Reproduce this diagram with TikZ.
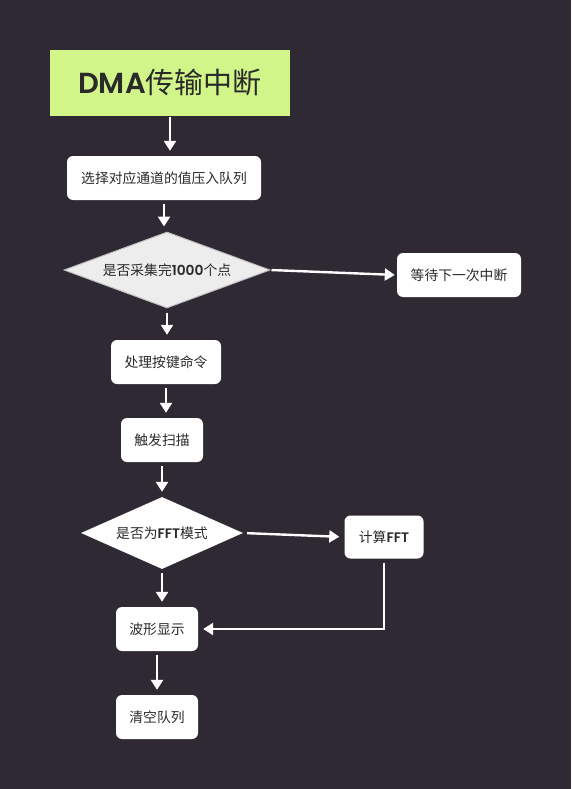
\documentclass[tikz,border=0pt]{standalone}
\usepackage{fontspec}
\setmainfont{Noto Sans CJK SC}
\newfontfamily\latinbold{Poppins}[UprightFont=* SemiBold]
\usetikzlibrary{shapes.geometric,arrows.meta}
\definecolor{bgdark}{HTML}{2E2933}
\definecolor{titlegreen}{HTML}{D2F58A}
\definecolor{txtdark}{HTML}{2A2A2A}
\begin{document}
\begin{tikzpicture}[
  x=1pt, y=-1pt,
  stepbox/.style={rectangle, rounded corners=6pt, fill=white, text=txtdark, font=\fontsize{13.8}{16}\selectfont, inner sep=0pt},
  decide/.style={diamond, aspect=2.6, inner sep=0pt, text=txtdark, font=\fontsize{13.8}{16}\selectfont},
  arr/.style={draw=white, line width=2.4pt, -{Triangle[length=10pt,width=12pt]}, shorten <=4pt, shorten >=5pt}
]
  \fill[bgdark] (0,0) rectangle (571,789);
  \useasboundingbox (0,0) rectangle (571,789);

  % titel
  \node[rectangle, fill=titlegreen, text=txtdark, minimum width=240pt, minimum height=66pt, inner sep=0pt,
        font=\fontsize{29}{32}\selectfont] (dma) at (170,83) {{\latinbold DMA}传输中断};

  % hauptkette
  \node[stepbox, minimum width=194pt, minimum height=44pt] (push) at (164,178) {选择对应通道的值压入队列};
  \node[decide, fill=black!7, draw=black!25, line width=1pt, minimum width=206pt, minimum height=76pt] (full) at (167,270) {是否采集完{\latinbold 1000}个点};
  \node[stepbox, minimum width=124pt, minimum height=44pt] (wait) at (459,275) {等待下一次中断};
  \node[stepbox, minimum width=110pt, minimum height=44pt] (keys) at (166,362) {处理按键命令};
  \node[stepbox, minimum width=82pt, minimum height=44pt] (scan) at (162,440) {触发扫描};
  \node[decide, fill=white, minimum width=162pt, minimum height=72pt] (mode) at (162,533) {是否为{\latinbold FFT}模式};
  \node[stepbox, minimum width=79pt, minimum height=43pt] (fft) at (384,537) {计算{\latinbold FFT}};
  \node[stepbox, minimum width=82pt, minimum height=44pt] (wave) at (157,629) {波形显示};
  \node[stepbox, minimum width=82pt, minimum height=44pt] (clear) at (157,717) {清空队列};

  % pfeile
  \draw[arr, shorten <=1pt] (dma) -- (dma |- push.north);
  \draw[arr] (push) -- (push |- full.north);
  \draw[arr, shorten <=1pt, shorten >=2pt] (full.east) -- (wait.west);
  \draw[arr] (full) -- (full |- keys.north);
  \draw[arr] (keys) -- (keys |- scan.north);
  \draw[arr] (scan) -- (scan |- mode.north);
  \draw[arr] (mode.east) -- (fft.west);
  \draw[arr] (mode) -- (mode |- wave.north);
  \draw[arr] (fft) |- (wave);
  \draw[arr] (wave) -- (clear);

\end{tikzpicture}
\end{document}
